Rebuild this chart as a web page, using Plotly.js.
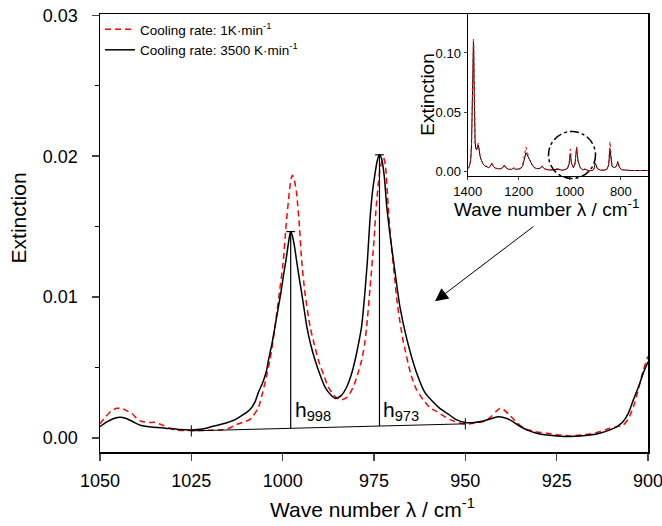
<!DOCTYPE html>
<html>
<head>
<meta charset="utf-8">
<script src="https://cdn.plot.ly/plotly-3.0.1.min.js"></script>
<style>html,body{margin:0;padding:0;background:#fff;}#chart{width:662px;height:526px;}</style>
</head>
<body>
<div id="chart"></div>
<script>
// ---- main panel data (wave number, extinction) ----
var wnFast = [1050,1048,1046,1044.5,1043,1041,1039,1036,1032,1028.5,1025,1022,1019.5,1016,1013,1010.5,1009,1007.5,1006.7,1005.5,1004.5,1003.9,1003,1002.1,1001.3,1000.5,999.8,999.1,998.5,998.0,997.8,997.3,996.7,996.2,995.5,994.8,994.1,993.4,992.3,991.1,989.8,988.4,987,985.5,984,982.5,981.2,980.2,979.3,978.4,977.5,976.8,976.1,975.4,974.7,974.1,973.5,972.9,972.2,971.5,970.4,969.2,967.9,966.0,963.3,961,959,957,955,952.5,950,947.5,945,942.5,941,939.5,937.8,935.5,933.2,930.5,927.7,924,921.3,918.5,915.9,913,910.4,908.5,906.8,905.3,904,902.5,901.3,900];
var extFast = [0.0008,0.00115,0.0014,0.00147,0.0014,0.00115,0.0009,0.00078,0.00069,0.0006,0.00057,0.00063,0.0008,0.00102,0.0013,0.0017,0.002,0.0026,0.0032,0.0039,0.0047,0.0055,0.0066,0.0079,0.0091,0.0103,0.0115,0.0126,0.0137,0.0145,0.01465,0.0143,0.0135,0.0126,0.0114,0.0103,0.0091,0.0079,0.0066,0.0055,0.0045,0.0036,0.0031,0.0028,0.0030,0.0036,0.0045,0.0055,0.0066,0.0079,0.0103,0.0126,0.0155,0.0175,0.0188,0.0197,0.0201,0.0198,0.0186,0.0164,0.0140,0.0117,0.0093,0.0070,0.0046,0.0032,0.0026,0.0021,0.00175,0.0013,0.0011,0.0011,0.0012,0.0014,0.00151,0.00145,0.00128,0.0009,0.00057,0.00033,0.0002,0.00012,0.0001,0.00013,0.0002,0.00035,0.00057,0.0008,0.00116,0.0018,0.0027,0.0037,0.0046,0.0054];

var wnSlow = [1050,1048.5,1047,1045.5,1044,1042.5,1041.3,1040,1038.6,1036.5,1035,1033,1031,1029.5,1025,1020,1016.7,1014.5,1013,1011,1009,1008,1006.7,1005.5,1004.5,1003.5,1002.8,1002.1,1001.5,1000.9,999.8,999.1,998.2,997.7,997.3,996.8,996.2,995.4,994.8,993.9,992.5,991.3,990.2,988.8,987.5,985.5,983.9,982.3,980.7,979.5,978.4,977.6,977,976.1,975,974.4,973.5,972.9,972.4,971.9,971.1,970.4,969.5,968.5,967.1,965,963.5,961.5,959.5,958,954.2,950.5,948.7,946.5,945,943,941.5,940.5,939.5,937.8,936,934,931,927.7,924,921.3,918.5,915.9,913,910.4,908.5,906.8,905.5,904,902.8,901.3,900];
var extSlow = [0.001,0.0015,0.0019,0.0021,0.0021,0.0019,0.00175,0.0014,0.00116,0.0011,0.0011,0.00092,0.0007,0.00057,0.00052,0.00054,0.00057,0.0007,0.00092,0.0011,0.0013,0.0016,0.0021,0.0032,0.0043,0.0055,0.0066,0.0079,0.0091,0.0103,0.0126,0.0150,0.0174,0.0184,0.01865,0.0183,0.0174,0.0150,0.0126,0.0103,0.0079,0.0066,0.0055,0.0045,0.0036,0.0029,0.0027,0.0029,0.0036,0.0045,0.0055,0.0066,0.0079,0.0106,0.0140,0.0164,0.0188,0.0196,0.0199,0.0194,0.0164,0.0140,0.0117,0.0093,0.0070,0.0046,0.0035,0.0027,0.0021,0.0019,0.0013,0.001,0.001,0.0011,0.00116,0.0015,0.0019,0.0021,0.002,0.0016,0.0011,0.0007,0.00045,0.00033,0.0002,0.00014,0.0002,0.00028,0.00045,0.00069,0.0008,0.00092,0.0013,0.0022,0.0033,0.0048,0.0058];

// ---- inset data (full spectrum) ----
var wnInset = [1400,1396,1392,1388,1385,1382,1380,1378.5,1377.5,1376.5,1375,1373,1371,1368,1365,1362,1359,1356,1352,1346,1340,1333,1326,1318,1312,1306,1300,1292,1280,1270,1263,1257,1251,1240,1228,1220,1212,1195,1185,1177,1172,1168,1162,1155,1147,1140,1128,1115,1108,1100,1085,1070,1055,1045,1030,1010,1003,998,994,986,980,973.5,968,960,950,940,925,910,904,901,897,892,880,865,855,848,843,840,835,826,818,812,807,800,790,760,730,700,694];
var extInsetFast = [0.002,0.003,0.005,0.010,0.022,0.05,0.085,0.106,0.110,0.104,0.075,0.040,0.024,0.019,0.018,0.020,0.022,0.019,0.013,0.009,0.006,0.0045,0.004,0.003,0.004,0.0065,0.004,0.0025,0.002,0.002,0.003,0.005,0.003,0.0015,0.0015,0.0025,0.0015,0.002,0.004,0.010,0.0155,0.014,0.011,0.008,0.005,0.003,0.002,0.0025,0.004,0.002,0.001,0.001,0.0015,0.0015,0.0007,0.002,0.006,0.0147,0.007,0.0028,0.006,0.0201,0.009,0.003,0.0011,0.0015,0.0002,0.0006,0.0027,0.0065,0.005,0.002,0.0008,0.0008,0.0015,0.005,0.019,0.012,0.004,0.003,0.004,0.0075,0.004,0.0015,0.001,0.0005,0.0005,0.0005,0.0005];
var extInsetSlow = [0.002,0.003,0.005,0.011,0.024,0.053,0.088,0.109,0.1125,0.106,0.076,0.040,0.024,0.019,0.019,0.022,0.0235,0.020,0.013,0.009,0.006,0.0045,0.004,0.003,0.004,0.007,0.004,0.0025,0.002,0.002,0.003,0.0055,0.003,0.0015,0.0015,0.003,0.0015,0.002,0.005,0.013,0.0205,0.017,0.012,0.008,0.005,0.003,0.002,0.0025,0.0045,0.002,0.001,0.001,0.002,0.002,0.0007,0.002,0.006,0.0187,0.007,0.0027,0.006,0.0200,0.008,0.003,0.001,0.002,0.0002,0.0007,0.0022,0.007,0.005,0.002,0.0008,0.0008,0.0015,0.006,0.025,0.013,0.004,0.003,0.004,0.0085,0.004,0.0015,0.001,0.0005,0.0005,0.0005,0.0005];

var nameSlow = 'Cooling rate: 1K·min<sup>-1</sup>';
var nameFast = 'Cooling rate: 3500 K·min<sup>-1</sup>';
var xTicks = [1050,1025,1000,975,950,925,900];
var insetXTicks = [1400,1200,1000,800];
var insetYTicks = [0,0.05,0.10];

// peak-height construction (baseline and peak positions)
var baseX = [1025, 950];
var baseY = [0.0005, 0.001];
var peakX = [997.8, 973.5];
var peakY = [0.01465, 0.0201];
var peakLabels = ['h<sub>998</sub>', 'h<sub>973</sub>'];

var FONT = 'Liberation Sans, Arial, Helvetica, sans-serif';

function baseAt(x){ return baseY[0] + (x - baseX[0])/(baseX[1]-baseX[0])*(baseY[1]-baseY[0]); }

var traces = [
  {x: wnSlow, y: extSlow, name: nameSlow, type: 'scatter', mode: 'lines',
   line: {color: '#ff0000', width: 1.5, dash: '6px,4px', shape: 'spline', smoothing: 0.6}, xaxis: 'x', yaxis: 'y'},
  {x: wnFast, y: extFast, name: nameFast, type: 'scatter', mode: 'lines',
   line: {color: '#000000', width: 1.5, shape: 'spline', smoothing: 0.6}, xaxis: 'x', yaxis: 'y'},
  {x: wnInset, y: extInsetFast, showlegend: false, type: 'scatter', mode: 'lines',
   line: {color: '#000000', width: 1}, xaxis: 'x2', yaxis: 'y2'},
  {x: wnInset, y: extInsetSlow, showlegend: false, type: 'scatter', mode: 'lines',
   line: {color: '#ff0000', width: 1, dash: 'dot'}, xaxis: 'x2', yaxis: 'y2'}
];

var shapes = [
  {type: 'line', xref: 'x', yref: 'y', x0: baseX[0], y0: baseY[0], x1: baseX[1], y1: baseY[1], line: {color: '#000', width: 1}},
  {type: 'line', xref: 'x', yref: 'y', x0: baseX[0], y0: baseY[0]-0.0004, x1: baseX[0], y1: baseY[0]+0.0004, line: {color: '#000', width: 1}},
  {type: 'line', xref: 'x', yref: 'y', x0: baseX[1], y0: baseY[1]-0.0004, x1: baseX[1], y1: baseY[1]+0.0004, line: {color: '#000', width: 1}}
];
for (var i = 0; i < peakX.length; i++) {
  shapes.push({type: 'line', xref: 'x', yref: 'y', x0: peakX[i], y0: baseAt(peakX[i]), x1: peakX[i], y1: peakY[i], line: {color: '#000', width: 1.2}});
  shapes.push({type: 'line', xref: 'x', yref: 'y', x0: peakX[i]+1.2, y0: peakY[i], x1: peakX[i]-1.2, y1: peakY[i], line: {color: '#000', width: 1.2}});
}
// dash-dot circle in inset
shapes.push({type: 'circle', xref: 'paper', yref: 'paper', x0: 0.8184, x1: 0.9042, y0: 0.6244, y1: 0.7317,
  line: {color: '#000', width: 1.5, dash: 'dashdot'}});

var annotations = [];
for (var j = 0; j < peakX.length; j++) {
  annotations.push({xref: 'x', yref: 'y', x: peakX[j], y: 0.0019, xanchor: 'left', yanchor: 'middle', xshift: 2,
    text: peakLabels[j], showarrow: false, font: {family: FONT, size: 21, color: '#000'}});
}
annotations.push({xref: 'x', yref: 'y', x: 958.3, y: 0.0097, ax: 100, ay: -76, text: '', showarrow: true,
  arrowhead: 2, arrowsize: 2.6, arrowwidth: 1, arrowcolor: '#000'});
annotations.push({xref: 'paper', yref: 'paper', x: -0.149, y: 0.534, xanchor: 'center', yanchor: 'middle', text: 'Extinction', textangle: -90, showarrow: false,
  font: {family: FONT, size: 21, color: '#000'}});
annotations.push({xref: 'paper', yref: 'paper', x: 0.498, y: -0.128, xanchor: 'center', yanchor: 'middle', text: 'Wave number λ / cm<sup>-1</sup>', showarrow: false,
  font: {family: FONT, size: 21, color: '#000'}});
annotations.push({xref: 'paper', yref: 'paper', x: 0.596, y: 0.815, xanchor: 'center', yanchor: 'middle', text: 'Extinction', textangle: -90, showarrow: false,
  font: {family: FONT, size: 19, color: '#000'}});
annotations.push({xref: 'paper', yref: 'paper', x: 0.815, y: 0.557, xanchor: 'center', yanchor: 'middle', text: 'Wave number λ / cm<sup>-1</sup>', showarrow: false,
  font: {family: FONT, size: 19, color: '#000'}});

var layout = {
  width: 662, height: 526,
  margin: {l: 100, r: 14, t: 14, b: 74},
  paper_bgcolor: '#fff', plot_bgcolor: 'rgba(0,0,0,0)',
  font: {family: FONT, color: '#000'},
  showlegend: true,
  legend: {x: 0, y: 1, xanchor: 'left', yanchor: 'top', bgcolor: 'rgba(0,0,0,0)', borderwidth: 0,
    font: {family: FONT, size: 13.5, color: '#000'}, tracegroupgap: 0},
  xaxis: {domain: [0, 1], range: [1050, 900], tickvals: xTicks, ticks: 'outside', ticklen: 7, tickwidth: 1.5,
    ticklabeloverflow: 'allow', ticklabelstandoff: 5,
    showline: true, linewidth: 1.5, linecolor: '#000', mirror: true, showgrid: false, zeroline: false,
    tickfont: {family: FONT, size: 18, color: '#000'}, anchor: 'y'},
  yaxis: {domain: [0, 1], range: [-0.001, 0.0301], dtick: 0.01, tick0: 0, tickformat: '.2f', ticks: 'outside', ticklen: 7, tickwidth: 1.5,
    ticklabeloverflow: 'allow', ticklabelstandoff: 10,
    minor: {dtick: 0.005, tick0: 0, ticks: 'outside', ticklen: 4, tickwidth: 1.2, tickcolor: '#000'},
    showline: true, linewidth: 1.5, linecolor: '#000', mirror: true, showgrid: false, zeroline: false,
    tickfont: {family: FONT, size: 18, color: '#000'}, anchor: 'x'},
  xaxis2: {domain: [0.671, 1], range: [1400, 694], tickvals: insetXTicks, ticks: 'outside', ticklen: 3, tickwidth: 1,
    ticklabeloverflow: 'allow',
    showline: true, linewidth: 1.2, linecolor: '#000', mirror: true, showgrid: false, zeroline: false,
    tickfont: {family: FONT, size: 13, color: '#000'}, anchor: 'y2'},
  yaxis2: {domain: [0.63, 1], range: [-0.0042, 0.133], tickvals: insetYTicks, tickformat: '.2f', ticks: 'outside', ticklen: 3, tickwidth: 1,
    ticklabeloverflow: 'allow',
    showline: true, linewidth: 1.2, linecolor: '#000', mirror: true, showgrid: false, zeroline: false,
    tickfont: {family: FONT, size: 13, color: '#000'}, anchor: 'x2'},
  shapes: shapes,
  annotations: annotations
};

Plotly.newPlot('chart', traces, layout, {staticPlot: true, displayModeBar: false});
</script>
</body>
</html>
